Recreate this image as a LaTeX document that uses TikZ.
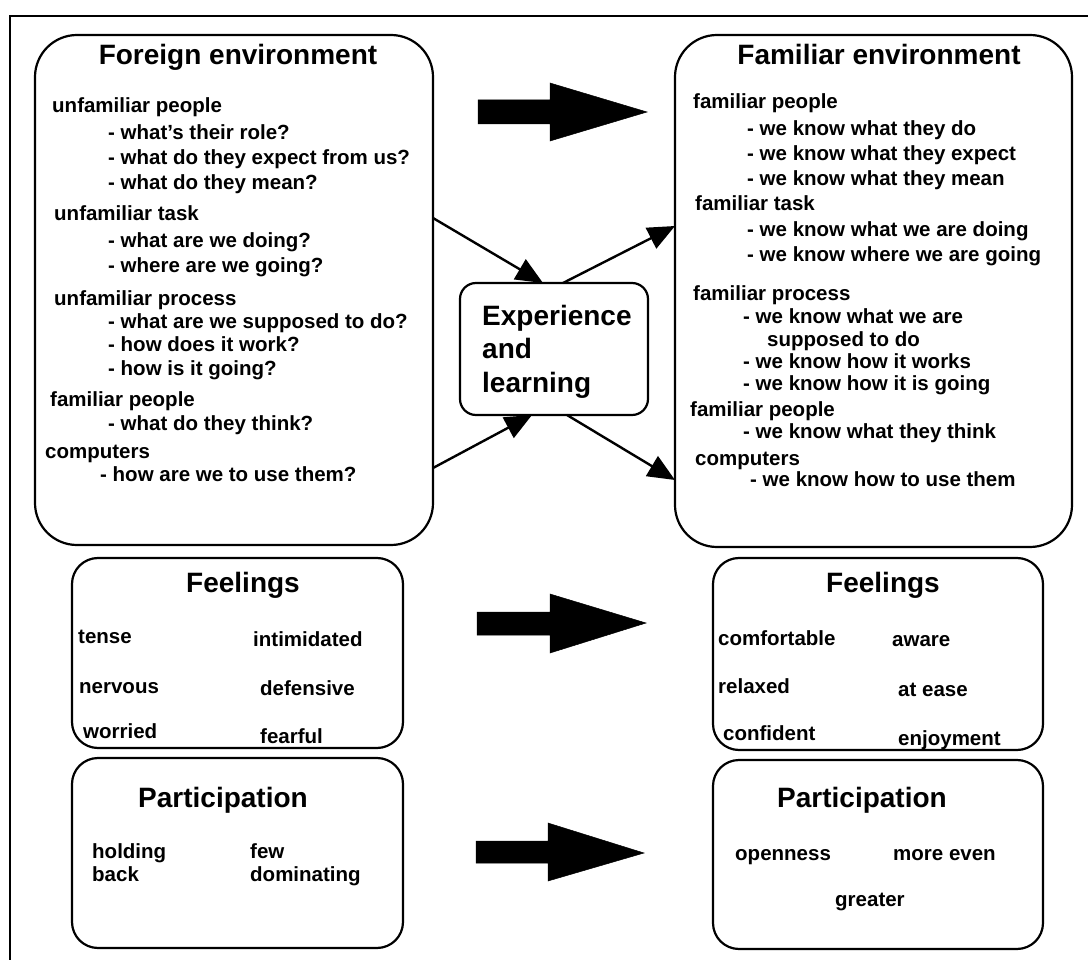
\documentclass[tikz,border=0pt]{standalone}
\usepackage{fontspec}
\setmainfont{Liberation Sans}
\usetikzlibrary{arrows.meta}
\begin{document}
\begin{tikzpicture}[x=1pt,y=-1pt,
  box/.style={draw, line width=2.2pt, rounded corners=#1, inner sep=0pt, outer sep=0pt},
  txt/.style={anchor=west, inner sep=0pt, yshift=-5pt, font=\bfseries\fontsize{20.5}{24}\selectfont, text height=1.5ex, text depth=0pt},
  ttl/.style={anchor=center, inner sep=0pt, yshift=-7pt, font=\bfseries\fontsize{28}{33}\selectfont, text height=1.5ex, text depth=0pt},
  thin arrow/.style={line width=2.4pt, -{Triangle[length=27pt,width=23pt]}},
  fat arrow/.style={fill=black, draw=black, line width=0.5pt}]
\useasboundingbox (0,0) rectangle (1088,960);
% outer frame
\draw[line width=2pt] (10,960) -- (10,16) -- (1088,16);

% boxes
\node[box=42pt, minimum width=398pt, minimum height=510pt] (envL) at (234,290) {};
\node[box=42pt, minimum width=397pt, minimum height=512pt] (envR) at (873.5,291) {};
\node[box=16pt, minimum width=188pt, minimum height=132pt] (exp) at (554,349) {};
\node[box=26pt, minimum width=331pt, minimum height=190pt] (feelL) at (237.5,653) {};
\node[box=26pt, minimum width=331pt, minimum height=190pt] (partL) at (237.5,853) {};
\node[box=26pt, minimum width=330pt, minimum height=192pt] (feelR) at (878,654) {};
\node[box=26pt, minimum width=330pt, minimum height=189pt] (partR) at (878,854.5) {};

% thick arrows
\draw[fat arrow] (478,100) -- (550,100) -- (550,83) -- (647,112) -- (550,141) -- (550,124) -- (478,124) -- cycle;
\draw[fat arrow] (477,612) -- (550,612) -- (550,594) -- (646,623) -- (550,653) -- (550,635) -- (477,635) -- cycle;
\draw[fat arrow] (476,841) -- (548,841) -- (548,823) -- (644,853) -- (548,881) -- (548,863) -- (476,863) -- cycle;

% thin arrows
\draw[thin arrow] (envL.east |- 0,218) -- (exp.north -| 543,0);
\draw[thin arrow] (exp.north -| 563,0) -- (envR.west |- 0,226);
\draw[thin arrow] (envL.east |- 0,468) -- (exp.south -| 532,0);
\draw[thin arrow] (exp.south -| 567,0) -- (envR.west |- 0,480);

% left environment text
\node[ttl] (tL) at (238,54) {Foreign environment};
\node[txt] (l1) at (52,104) {unfamiliar people};
\node[txt] (l2) at (108,131) {- what's their role?};
\node[txt] (l3) at (108,156) {- what do they expect from us?};
\node[txt] (l4) at (108,181) {- what do they mean?};
\node[txt] (l5) at (54,212) {unfamiliar task};
\node[txt] (l6) at (108,239) {- what are we doing?};
\node[txt] (l7) at (108,264) {- where are we going?};
\node[txt] (l8) at (54,297) {unfamiliar process};
\node[txt] (l9) at (108,320) {- what are we supposed to do?};
\node[txt] (l10) at (108,343) {- how does it work?};
\node[txt] (l11) at (108,367) {- how is it going?};
\node[txt] (l12) at (50,398) {familiar people};
\node[txt] (l13) at (108,422) {- what do they think?};
\node[txt] (l14) at (45,450) {computers};
\node[txt] (l15) at (100,473) {- how are we to use them?};

% right environment text
\node[ttl] (tR) at (879,54) {Familiar environment};
\node[txt] (r1) at (693,100) {familiar people};
\node[txt] (r2) at (747,127) {- we know what they do};
\node[txt] (r3) at (747,152) {- we know what they expect};
\node[txt] (r4) at (747,177) {- we know what they mean};
\node[txt] (r5) at (695,202) {familiar task};
\node[txt] (r6) at (747,228) {- we know what we are doing};
\node[txt] (r7) at (747,253) {- we know where we are going};
\node[txt] (r8) at (693,292) {familiar process};
\node[txt] (r9) at (743,315) {- we know what we are};
\node[txt] (r10) at (767,338) {supposed to do};
\node[txt] (r11) at (743,360) {- we know how it works};
\node[txt] (r12) at (743,382) {- we know how it is going};
\node[txt] (r13) at (690,408) {familiar people};
\node[txt] (r14) at (743,430) {- we know what they think};
\node[txt] (r15) at (695,457) {computers};
\node[txt] (r16) at (750,478) {- we know how to use them};

% experience text
\node[ttl, anchor=west] (e1) at (482,315) {Experience};
\node[ttl, anchor=west] (e2) at (482,348) {and};
\node[ttl, anchor=west] (e3) at (482,382) {learning};

% feelings left
\node[ttl] (fLt) at (243,582) {Feelings};
\node[txt] (fl1) at (78,635) {tense};
\node[txt] (fl2) at (253,638) {intimidated};
\node[txt] (fl3) at (79,685) {nervous};
\node[txt] (fl4) at (260,687) {defensive};
\node[txt] (fl5) at (83,730) {worried};
\node[txt] (fl6) at (260,735) {fearful};

% participation left
\node[ttl] (pLt) at (223,797) {Participation};
\node[txt] (pl1) at (92,850) {holding};
\node[txt] (pl2) at (92,873) {back};
\node[txt] (pl3) at (250,850) {few};
\node[txt] (pl4) at (250,873) {dominating};

% feelings right
\node[ttl] (fRt) at (883,582) {Feelings};
\node[txt] (fr1) at (718,637) {comfortable};
\node[txt] (fr2) at (892,638) {aware};
\node[txt] (fr3) at (718,685) {relaxed};
\node[txt] (fr4) at (898,688) {at ease};
\node[txt] (fr5) at (723,732) {confident};
\node[txt] (fr6) at (898,737) {enjoyment};

% participation right
\node[ttl] (pRt) at (862,797) {Participation};
\node[txt] (pr1) at (735,852) {openness};
\node[txt] (pr2) at (893,852) {more even};
\node[txt] (pr3) at (835,898) {greater};
\end{tikzpicture}
\end{document}
